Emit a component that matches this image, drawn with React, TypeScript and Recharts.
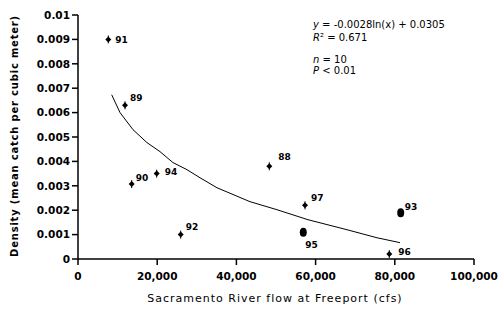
import React from 'react';
import { ScatterChart, Scatter, XAxis, YAxis } from 'recharts';

const years = ['91', '89', '90', '94', '92', '88', '97', '96'];
const flows = [7650, 11870, 13560, 19870, 25930, 48310, 57320, 78610];
const densities = [0.009, 0.0063, 0.00307, 0.0035, 0.001, 0.0038, 0.0022, 0.0002];

const highlightYears = ['95', '93'];
const highlightFlows = [56890, 81490];
const highlightDensities = [0.0011, 0.0019];

const trendFlows = [8510, 10610, 13890, 17420, 20710, 23990, 27530, 30810, 35100, 43430, 50250, 58080, 67930, 75510, 81310];
const trendDensities = [0.00673, 0.006, 0.0053, 0.00477, 0.0044, 0.00395, 0.00366, 0.00333, 0.00292, 0.00235, 0.00202, 0.00161, 0.0012, 0.00087, 0.00067];

const xTicks = [0, 20000, 40000, 60000, 80000, 100000];
const yTicks = [0, 0.001, 0.002, 0.003, 0.004, 0.005, 0.006, 0.007, 0.008, 0.009, 0.01];

const equationVars = ['y', 'R', 'n', 'P'];
const equationRest = [' = -0.0028ln(x) + 0.0305', '² = 0.671', ' = 10', ' < 0.01'];
const xTitle = 'Sacramento River flow at Freeport (cfs)';
const yTitle = 'Density (mean catch per cubic meter)';

const pointData = years.map((y, i) => ({ year: y, flow: flows[i], density: densities[i] }));
const highlightData = highlightYears.map((y, i) => ({ year: y, flow: highlightFlows[i], density: highlightDensities[i] }));
const trendData = trendFlows.map((f, i) => ({ flow: f, density: trendDensities[i] }));

// label placement (style only)
const labelOffset: Record<string, [number, number]> = {
  '91': [7, 4], '89': [5, -4], '90': [4, -3], '94': [8, 1], '92': [5, -5],
  '88': [9, -6], '97': [6, -4], '96': [9, 1], '95': [2, 16], '93': [4, -3],
};

const FONT = 'DejaVu Sans, sans-serif';

const labelText = (cx: number, cy: number, year: string) => {
  const off = labelOffset[year] || [5, -4];
  return (
    <text x={cx + off[0]} y={cy + off[1]} fontFamily={FONT} fontWeight="bold" fontSize={9} fill="#000">
      {year}
    </text>
  );
};

const SmallMarker = (props: any) => {
  const { cx, cy, payload } = props;
  return (
    <g>
      <path d={`M${cx - 3},${cy} L${cx},${cy - 3} L${cx + 3},${cy} L${cx},${cy + 3} Z`} fill="#000" />
      <line x1={cx} y1={cy - 4} x2={cx} y2={cy + 4} stroke="#000" strokeWidth={1} />
      {labelText(cx, cy, payload.year)}
    </g>
  );
};

const BigMarker = (props: any) => {
  const { cx, cy, payload } = props;
  return (
    <g>
      <ellipse cx={cx} cy={cy} rx={3.5} ry={4.5} fill="#000" />
      {labelText(cx, cy, payload.year)}
    </g>
  );
};

const NoMarker = () => <g />;

const fmtY = (v: number) => String(Number(v.toFixed(3)));
const fmtX = (v: number) => v.toLocaleString('en-US');

export default function App() {
  return (
    <div style={{ position: 'absolute', left: 0, top: 0, width: 500, height: 318, background: '#fff' }}>
      <ScatterChart width={500} height={318} margin={{ top: 15, right: 26, bottom: 19, left: 0 }}>
        <XAxis
          type="number"
          dataKey="flow"
          domain={[0, 100000]}
          ticks={xTicks}
          tickFormatter={fmtX}
          height={40}
          tickSize={6}
          tickMargin={8}
          stroke="#000"
          strokeWidth={1.5}
          tick={{ fill: '#000', fontSize: 10.5, fontFamily: FONT, fontWeight: 'bold' }}
          interval={0}
        />
        <YAxis
          type="number"
          dataKey="density"
          domain={[0, 0.01]}
          ticks={yTicks}
          tickFormatter={fmtY}
          width={78}
          tickSize={6}
          tickMargin={2}
          stroke="#000"
          strokeWidth={1.5}
          tick={{ fill: '#000', fontSize: 10.5, fontFamily: FONT, fontWeight: 'bold' }}
          interval={0}
        />
        <Scatter data={trendData} line={{ stroke: '#000', strokeWidth: 1 }} lineType="joint" shape={NoMarker} isAnimationActive={false} />
        <Scatter data={pointData} shape={SmallMarker} isAnimationActive={false} />
        <Scatter data={highlightData} shape={BigMarker} isAnimationActive={false} />
      </ScatterChart>
      <svg width={500} height={318} style={{ position: 'absolute', left: 0, top: 0, pointerEvents: 'none' }}>
        <text x={275} y={302} textAnchor="middle" fontFamily={FONT} fontSize={11} letterSpacing={1} fill="#000">
          {xTitle}
        </text>
        <text
          x={0}
          y={0}
          transform="translate(18,136) rotate(-90)"
          textAnchor="middle"
          fontFamily={FONT}
          fontSize={10}
          fontWeight="bold"
          letterSpacing={0.8}
          fill="#000"
        >
          {yTitle}
        </text>
        {equationVars.map((v, i) => (
          <text key={i} x={313} y={[28, 41, 63, 74][i]} fontFamily={FONT} fontSize={10} fill="#000">
            <tspan fontStyle="italic">{v}</tspan>
            {equationRest[i]}
          </text>
        ))}
      </svg>
    </div>
  );
}
